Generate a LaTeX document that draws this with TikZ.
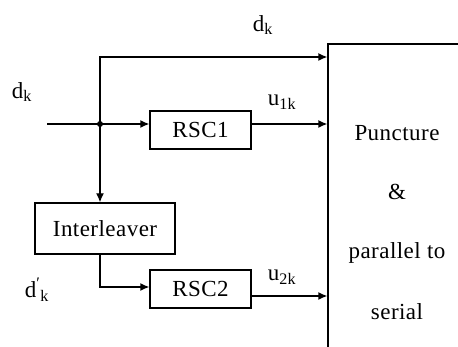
\documentclass[tikz,border=0pt]{standalone}
\usepackage{fontspec}
\setmainfont{Liberation Serif}[LetterSpace=2]
\usetikzlibrary{arrows.meta}
\begin{document}
\begin{tikzpicture}[x=1pt,y=-1pt,
  blk/.style={draw,line width=1.3pt,inner sep=0pt,font=\fontsize{23}{26}\selectfont},
  arr/.style={line width=1.3pt,-{Latex[length=9pt,width=8pt]}},
  ln/.style={line width=1.3pt},
  lbl/.style={font=\fontsize{23}{26}\selectfont,inner sep=0pt},
  txt/.style={font=\fontsize{23}{26}\selectfont,inner sep=0pt}]
\useasboundingbox (0,0) rectangle (458,347);
\clip (0,0) rectangle (458,347);
\node[blk,minimum width=101pt,minimum height=38pt] (rsc1) at (200.5,130) {RSC1};
\node[blk,minimum width=101pt,minimum height=38pt] (rsc2) at (200.5,289) {RSC2};
\node[blk,minimum width=140pt,minimum height=51pt] (int) at (105,228.5) {Interleaver};
\node[blk,minimum width=142pt,minimum height=316pt] (big) at (399,202) {};
\node[txt] (t1) at (397,133) {Puncture};
\node[txt] (t2) at (397,192) {\&};
\node[txt] (t3) at (397,253) {parallel to};
\node[txt] (t4) at (397,312) {serial};
\coordinate (in) at (47,124);
\coordinate (j) at (100,124);
\coordinate (top) at (100,57);
\coordinate (c2) at (100,287);
\coordinate (o2) at (251,296);
\fill (j) circle (3pt);
\draw[ln] (in) -- (j);
\draw[arr] (j) -- (rsc1.west |- j);
\draw[arr] (j) -- (top) -- (big.west |- top);
\draw[arr] (j) -- (int.north -| j);
\draw[arr] (int.south -| j) -- (c2) -- (rsc2.west |- c2);
\draw[arr] (rsc1.east |- j) -- (big.west |- j);
\draw[arr] (rsc2.east |- o2) -- (big.west |- o2);
\node[lbl] (l1) at (22,92) {d\textsubscript{k}};
\node[lbl] (l2) at (263,25) {d\textsubscript{k}};
\node[lbl] (l3) at (282,102) {u\textsubscript{1k}};
\node[lbl] (l4) at (282,277) {u\textsubscript{2k}};
\node[lbl] (l5) at (37,290) {d\textsuperscript{\char"2032}\textsubscript{k}};
\end{tikzpicture}
\end{document}
